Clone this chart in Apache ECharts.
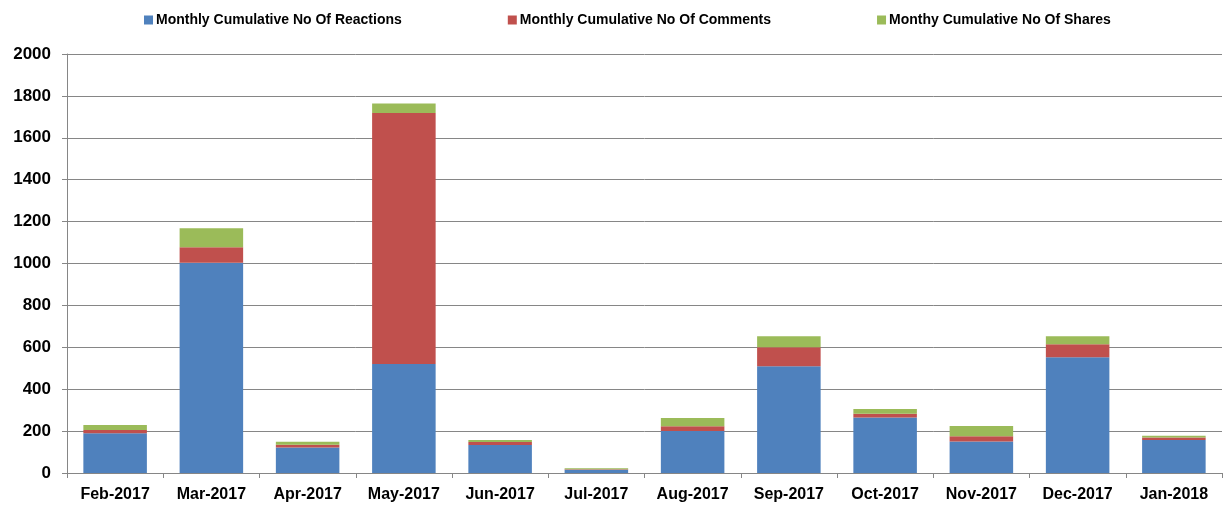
<!DOCTYPE html>
<html>
<head>
<meta charset="utf-8">
<script src="https://cdn.jsdelivr.net/npm/echarts@6/dist/echarts.min.js"></script>
<style>html,body{margin:0;padding:0;background:#fff}#c{width:1227px;height:506px}</style>
</head>
<body>
<div id="c"></div>
<script>
const categories = ['Feb-2017','Mar-2017','Apr-2017','May-2017','Jun-2017','Jul-2017','Aug-2017','Sep-2017','Oct-2017','Nov-2017','Dec-2017','Jan-2018'];
const reactions = [190, 1003, 122, 520, 134, 15, 200, 510, 265, 150, 552, 157];
const comments  = [15, 74, 13, 1198, 14, 3, 23, 90, 18, 26, 62, 13];
const shares    = [24, 91, 14, 46, 9, 5, 39, 53, 22, 48, 39, 8];
const seriesNames = ['Monthly Cumulative No Of Reactions','Monthly Cumulative No Of Comments','Monthy Cumulative No Of Shares'];
const colors = ['#4F81BD','#C0504D','#9BBB59'];

const chart = echarts.init(document.getElementById('c'), null, {renderer:'canvas'});
const font = '"Liberation Sans", Arial, sans-serif';
const mk = (name, data, color) => ({
  name, type:'bar', stack:'total', data, barCategoryGap:'34%',
  itemStyle:{color},
  emphasis:{disabled:true}
});
chart.setOption({
  animation:false,
  color: colors,
  legend:{
    top: 8, left: 139, itemWidth: 9, itemHeight: 9, itemGap: 106,
    icon:'rect',
    textStyle:{fontFamily:font, fontWeight:'bold', fontSize:14, color:'#000', padding:[0,0,0,-2]},
    data: seriesNames
  },
  grid:{left:67, right:5, top:54, bottom:33, containLabel:false},
  xAxis:{
    type:'category', data:categories,
    axisLine:{lineStyle:{color:'#868686', width:1}},
    axisTick:{show:true, length:5, lineStyle:{color:'#868686'}},
    axisLabel:{fontFamily:font, fontWeight:'bold', fontSize:16, color:'#000', margin:14}
  },
  yAxis:{
    type:'value', min:0, max:2000, interval:200,
    axisLine:{show:true, lineStyle:{color:'#868686', width:1}},
    axisTick:{show:true, length:5, lineStyle:{color:'#868686'}},
    splitLine:{lineStyle:{color:'#868686', width:1}},
    axisLabel:{fontFamily:font, fontWeight:'bold', fontSize:17, color:'#000', margin:16, formatter: v => String(v)}
  },
  series:[
    mk(seriesNames[0], reactions, colors[0]),
    mk(seriesNames[1], comments, colors[1]),
    mk(seriesNames[2], shares, colors[2])
  ]
});
</script>
</body>
</html>
